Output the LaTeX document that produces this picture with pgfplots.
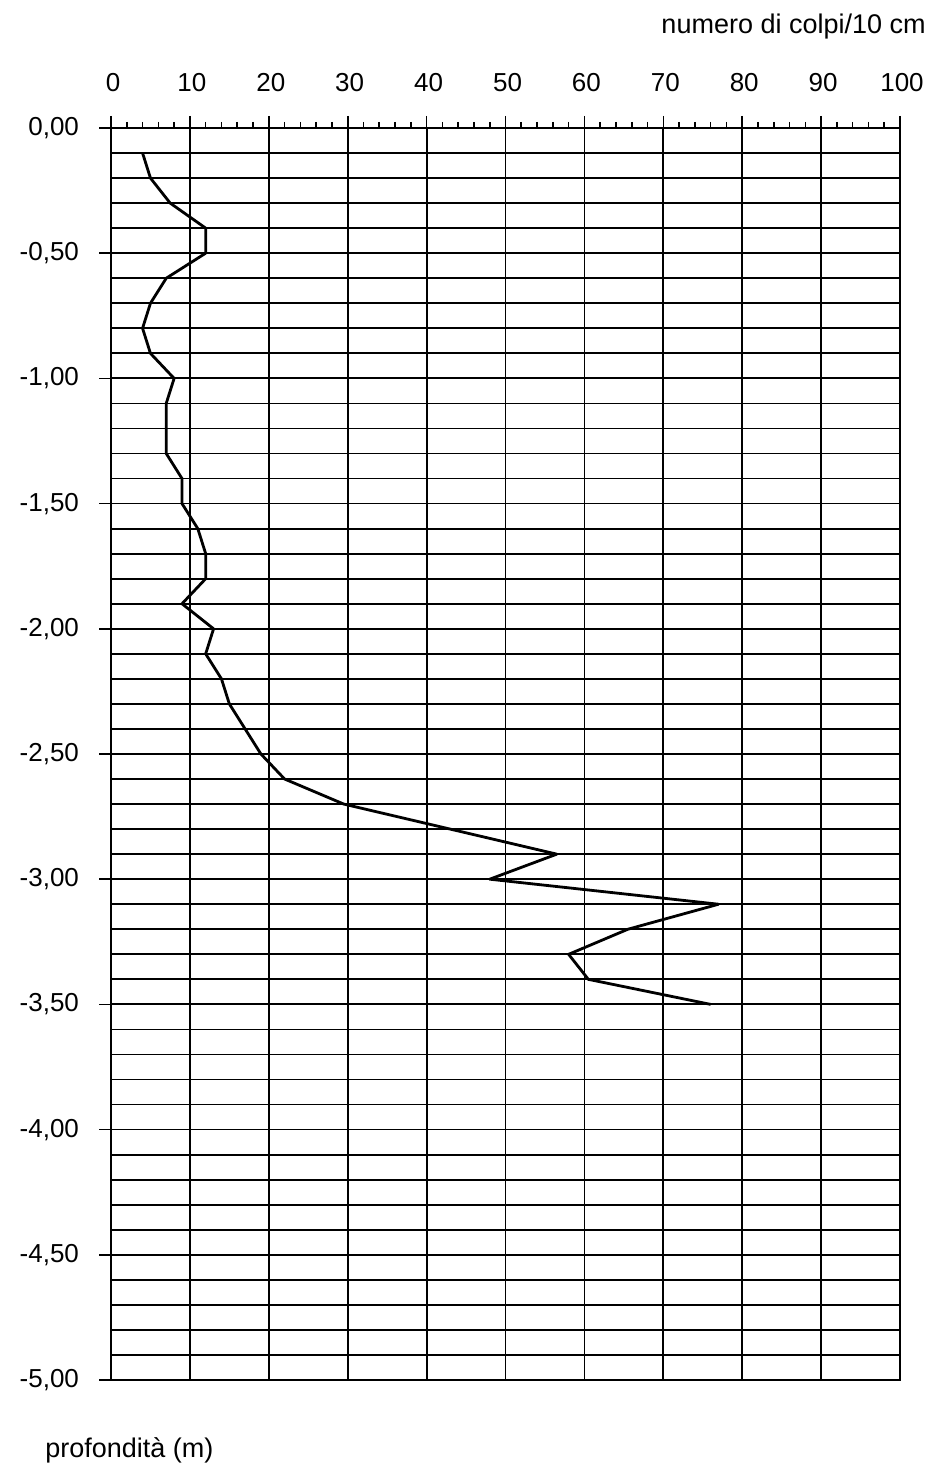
\documentclass[border=0pt]{standalone}
\usepackage{pgfplots}
\pgfplotsset{compat=1.18}
\usepackage{fontspec}
\setmainfont{Liberation Sans}
\begin{document}
\begin{tikzpicture}
\begin{axis}[
  at={(0,0)}, anchor=south west,
  scale only axis,
  width=394.5pt, height=626pt,
  xmin=0, xmax=100, ymin=-5, ymax=0,
  axis line style={black, line width=0.9pt},
  xtick={0,10,...,100},
  minor x tick num=4,
  xtick pos=right, xticklabel pos=right,
  ytick={-5,-4.5,...,0},
  minor y tick num=4,
  ytick pos=left,
  tick align=outside,
  major tick length=6pt,
  minor tick length=3pt,
  minor y tick style={draw=none},
  every tick/.style={black, line width=0.8pt},
  xmajorgrids=true, ymajorgrids=true, yminorgrids=true,
  major grid style={black, line width=0.9pt},
  minor grid style={black, line width=0.9pt},
  tick label style={font=\fontsize{13}{15}\selectfont},
  yticklabel style={xshift=-6.5pt, /pgf/number format/.cd, fixed, fixed zerofill, precision=2, use comma, assume math mode=true},
  xticklabel style={yshift=8.5pt, xshift=1pt, /pgf/number format/.cd, fixed, assume math mode=true},
  clip=false,
]
\addplot[black, line width=1.4pt, line join=round] table[x=n, y=z] {
z n
-0.1 4
-0.2 5
-0.3 7.5
-0.4 12
-0.5 12
-0.6 7
-0.7 5
-0.8 4
-0.9 5
-1.0 8
-1.1 7
-1.2 7
-1.3 7
-1.4 9
-1.5 9
-1.6 11
-1.7 12
-1.8 12
-1.9 9
-2.0 13
-2.1 12
-2.2 14
-2.3 15
-2.4 17
-2.5 19
-2.6 22
-2.7 29.5
-2.8 43
-2.9 56.5
-3.0 48
-3.1 77
-3.2 65.5
-3.3 58
-3.4 60.5
-3.5 76
};
\end{axis}
\node[anchor=east, font=\fontsize{13.5}{16}\selectfont, inner sep=0pt] at (407.5pt,676.5pt) {numero di colpi/10 cm};
\node[anchor=west, font=\fontsize{13.5}{16}\selectfont, inner sep=0pt] at (-33pt,-35pt) {profondità (m)};
\pgfresetboundingbox
\path[use as bounding box] (-55.5pt,-42.5pt) rectangle (415pt,690pt);
\end{tikzpicture}
\end{document}
